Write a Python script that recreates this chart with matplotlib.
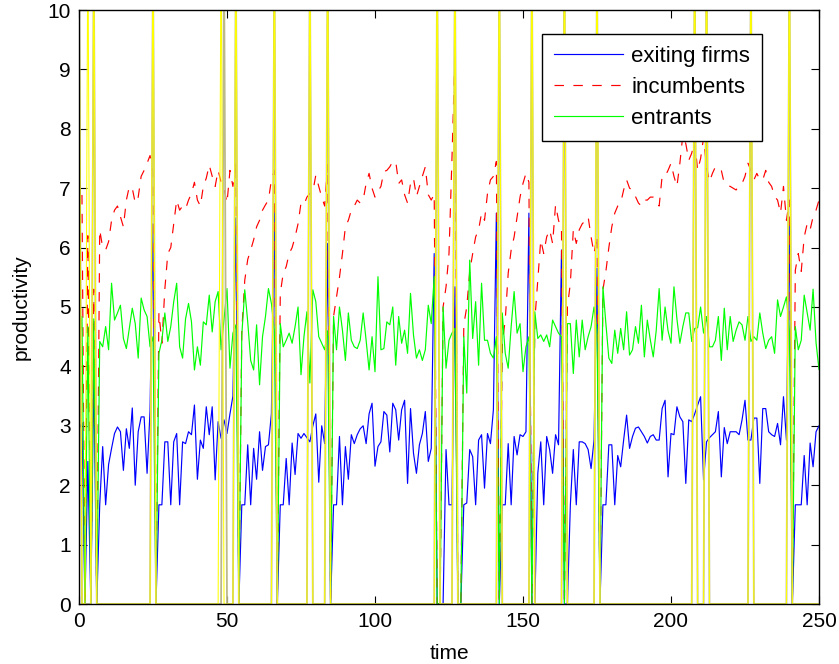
import matplotlib
matplotlib.use('Agg')
import matplotlib.pyplot as plt
import numpy as np

plt.rcParams['font.family'] = ['Liberation Sans', 'DejaVu Sans']

t = np.arange(251)

exiting = [
    2.95, 3.05, 0, 2.4, 0, 3.95, 0, 1.67, 2.65, 1.67,
    2.35, 2.62, 2.87, 2.98, 2.9, 2.25, 2.95, 2.62, 3.3, 2.0,
    2.9, 3.15, 3.15, 2.2, 3.25, 6.4, 0, 1.67, 1.67, 2.73,
    2.73, 1.67, 2.73, 2.87, 1.67, 2.73, 2.7, 2.9, 2.85, 3.35,
    2.1, 2.76, 2.62, 3.32, 2.85, 3.32, 2.09, 3.07, 2.79, 3.1,
    2.87, 3.2, 3.5, 6.5, 0, 1.67, 1.67, 2.68, 1.67, 2.62,
    2.1, 2.9, 2.25, 2.65, 2.68, 3.2, 6.6, 0, 1.67, 1.67,
    2.45, 1.67, 2.71, 2.18, 2.87, 2.79, 2.87, 2.8, 2.73, 3.0,
    3.2, 2.05, 3.0, 2.7, 6.07, 0, 1.67, 1.67, 2.82, 1.67,
    2.65, 2.1, 2.85, 2.7, 2.85, 2.95, 3.0, 2.7, 3.2, 3.38,
    2.32, 2.65, 2.73, 3.24, 3.18, 2.56, 3.38, 3.27, 2.76, 3.27,
    3.43, 2.03, 3.29, 2.54, 2.2, 2.68, 2.87, 3.24, 2.4, 2.62,
    5.9, 0, 0, 0, 2.6, 1.67, 1.67, 5.34, 0, 0,
    1.67, 1.7, 2.6, 2.48, 1.67, 2.76, 2.85, 1.95, 2.87, 2.7,
    3.27, 6.58, 0, 1.67, 1.67, 2.7, 1.67, 2.82, 2.51, 2.85,
    2.82, 2.9, 6.58, 0, 0, 2.2, 2.73, 1.67, 2.82, 2.6,
    2.2, 2.85, 2.68, 5.96, 0, 0, 1.67, 2.6, 1.67, 2.73,
    2.73, 2.7, 2.6, 2.28, 2.76, 5.65, 0, 1.67, 1.67, 2.68,
    2.68, 1.67, 2.5, 2.31, 2.76, 3.18, 2.62, 2.82, 2.96, 2.98,
    2.9, 2.82, 2.71, 2.82, 2.85, 2.76, 2.76, 3.29, 3.43, 2.14,
    2.87, 2.85, 3.32, 3.15, 3.07, 2.03, 3.1, 3.07, 3.2, 3.35,
    3.49, 2.09, 2.73, 2.8, 2.85, 2.9, 3.24, 2.14, 2.97, 2.7,
    2.9, 2.9, 2.9, 2.85, 3.1, 3.43, 2.76, 2.76, 3.13, 3.13,
    2.03, 3.29, 3.29, 2.9, 2.85, 2.82, 3.04, 2.68, 3.49, 2.76,
    6.46, 0, 1.67, 1.67, 1.67, 2.5, 1.67, 2.71, 2.31, 2.9,
    3.0,
]

incumbents = [
    7.2, 6.9, 0, 6.2, 0, 5.3, 0, 6.3, 6.0, 5.96,
    6.1, 6.46, 6.63, 6.7, 6.52, 6.35, 6.8, 7.03, 7.0, 6.75,
    6.85, 7.2, 7.3, 7.42, 7.55, 7.25, 0, 4.9, 4.39, 5.3,
    5.9, 6.0, 6.4, 6.8, 6.63, 6.7, 6.65, 6.8, 6.91, 7.1,
    6.8, 6.7, 7.03, 7.17, 7.39, 7.2, 7.03, 7.3, 7.1, 7.0,
    6.75, 7.3, 7.03, 7.45, 0, 4.6, 5.45, 5.8, 5.96, 6.13,
    6.35, 6.46, 6.63, 6.72, 6.8, 7.14, 7.3, 0, 5.23, 5.57,
    5.68, 5.9, 6.0, 6.18, 6.4, 6.75, 6.72, 6.85, 6.91, 6.94,
    7.22, 7.03, 6.85, 6.7, 7.4, 0, 4.84, 5.17, 5.5, 5.9,
    6.35, 6.46, 6.63, 6.7, 6.8, 6.75, 6.8, 7.08, 7.25, 7.0,
    6.85, 6.95, 7.03, 7.28, 7.3, 7.36, 7.45, 7.45, 7.08, 7.14,
    6.89, 6.75, 7.08, 7.17, 6.86, 7.03, 7.2, 7.36, 6.89, 6.8,
    6.9, 0, 0, 5.0, 5.34, 5.9, 7.5, 9.25, 0, 0,
    4.7, 5.0, 5.6, 5.9, 6.18, 6.3, 6.58, 6.46, 6.91, 7.14,
    7.2, 7.45, 0, 4.39, 4.78, 5.57, 5.96, 6.18, 6.52, 6.85,
    7.08, 7.25, 7.1, 0, 4.78, 5.45, 6.13, 5.9, 6.18, 6.3,
    6.07, 6.72, 6.46, 6.3, 0, 5.0, 5.4, 6.3, 6.07, 6.3,
    6.4, 6.45, 6.52, 6.18, 5.9, 6.2, 0, 5.29, 5.6, 6.0,
    6.35, 6.58, 6.7, 6.75, 6.97, 7.14, 7.0, 6.97, 6.86, 6.75,
    6.7, 6.8, 6.8, 6.85, 6.85, 6.75, 6.7, 7.2, 7.2, 7.3,
    7.42, 7.2, 7.03, 7.42, 7.9, 7.75, 7.47, 7.59, 7.8, 7.3,
    7.5, 7.85, 7.36, 7.11, 7.25, 7.36, 7.3, 7.3, 7.08, 7.05,
    7.03, 7.0, 6.97, 7.05, 7.08, 7.2, 7.42, 7.3, 7.14, 7.25,
    7.14, 7.14, 7.3, 7.1, 7.03, 6.86, 6.8, 6.58, 7.03, 6.46,
    6.8, 0, 5.62, 5.9, 5.6, 6.18, 6.4, 6.3, 6.52, 6.63,
    6.8,
]

entrants = [
    4.33, 4.84, 0, 4.67, 0, 4.8, 0, 4.42, 4.33, 4.67,
    4.28, 5.4, 4.78, 4.9, 5.03, 4.47, 4.3, 4.64, 4.98, 4.72,
    4.14, 5.15, 4.95, 4.84, 4.33, 4.5, 0, 4.22, 4.44, 4.9,
    4.42, 4.67, 5.09, 5.4, 4.33, 4.14, 4.8, 5.06, 4.75, 3.94,
    4.33, 4.02, 4.75, 4.7, 5.2, 4.58, 5.09, 5.26, 4.28, 4.8,
    5.31, 3.97, 4.56, 4.7, 0, 4.53, 5.29, 4.75, 4.1, 3.94,
    4.7, 3.69, 4.5, 4.84, 5.31, 5.06, 4.6, 0, 4.72, 4.33,
    4.44, 4.56, 4.39, 4.67, 5.0, 3.86, 4.5, 4.92, 3.72, 5.29,
    5.09, 4.5, 4.39, 4.28, 4.6, 0, 4.84, 4.28, 5.0, 4.61,
    4.1, 4.9, 4.44, 4.33, 4.3, 4.44, 4.9, 4.44, 3.94, 4.5,
    3.91, 5.51, 4.28, 4.3, 4.75, 4.7, 5.0, 4.02, 4.84, 4.39,
    4.61, 4.22, 5.23, 4.53, 4.14, 4.28, 4.1, 4.28, 5.03, 4.72,
    5.51, 0, 0, 5.0, 3.97, 4.44, 4.56, 4.64, 0, 0,
    4.5, 3.55, 5.79, 4.47, 5.09, 4.02, 5.4, 4.44, 4.44, 4.22,
    4.14, 4.5, 0, 4.9, 4.22, 3.97, 4.67, 5.26, 4.56, 4.72,
    3.91, 4.33, 4.5, 0, 4.92, 4.47, 4.53, 4.42, 4.53, 4.33,
    4.78, 4.67, 4.56, 4.5, 0, 4.72, 4.72, 3.88, 4.78, 4.16,
    4.78, 4.28, 4.5, 4.67, 5.0, 4.6, 0, 5.34, 4.72, 4.14,
    4.05, 4.61, 4.22, 4.64, 4.28, 4.92, 4.19, 4.28, 4.67, 4.39,
    5.03, 4.16, 4.78, 4.45, 4.16, 4.6, 5.31, 4.44, 5.0, 4.6,
    4.39, 5.34, 4.8, 4.39, 4.67, 4.9, 4.9, 4.42, 4.64, 4.65,
    5.0, 4.56, 4.84, 4.33, 4.33, 4.44, 4.84, 4.1, 4.98, 4.28,
    4.84, 4.42, 4.61, 4.75, 4.7, 4.44, 4.84, 4.42, 4.5, 4.44,
    4.9, 4.56, 4.3, 4.44, 4.5, 4.22, 5.12, 4.84, 5.0, 5.17,
    4.6, 0, 4.67, 4.28, 4.44, 5.2, 4.9, 4.61, 5.3, 4.4,
    3.95,
]

# the two extra columns are zero except at the shock periods
yellow_spikes = [0, 3, 5, 25, 48, 53, 66, 78, 84, 121, 127, 142, 153, 164, 175, 208, 212, 227, 240]
olive_spikes = [0, 5, 25, 49, 53, 66, 78, 84, 121, 127, 142, 153, 164, 175, 208, 212, 227, 240]
yellow_peak = 11.5
olive_peak = 11.0

yellow = np.zeros(len(t))
yellow[yellow_spikes] = yellow_peak
olive = np.zeros(len(t))
olive[olive_spikes] = olive_peak

fig = plt.figure(figsize=(8.39, 6.64), dpi=100)
ax = fig.add_axes([79 / 839, 60 / 664, 740 / 839, 594 / 664])

h1, = ax.plot(t, exiting, color='#0000ff', lw=0.85, label='exiting firms')
h2, = ax.plot(t, incumbents, color='#ff0000', lw=0.85, dashes=(8, 8), label='incumbents')
h3, = ax.plot(t, entrants, color='#00ff00', lw=0.85, label='entrants')
ax.plot(t, olive, color='#bcb98a', lw=1.3)
ax.plot(t, yellow, color='#ffff00', lw=0.75)

ax.set_xlim(0, 250)
ax.set_ylim(0, 10)
ax.set_xticks(range(0, 251, 50))
ax.set_yticks(range(0, 11))
ax.tick_params(direction='in', top=True, right=True, length=6, width=0.8,
               labelsize=15, pad=6, colors='black')
for s in ax.spines.values():
    s.set_linewidth(1.0)
    s.set_color('black')

ax.set_xlabel('time', fontsize=15, labelpad=9)
ax.set_ylabel('productivity', fontsize=15, labelpad=12)

leg = ax.legend(handles=[h1, h2, h3], loc='upper left', bbox_to_anchor=(0.626, 0.96),
                fontsize=16, fancybox=False, edgecolor='black', framealpha=1,
                borderaxespad=0, handlelength=3.1, handletextpad=0.35,
                labelspacing=0.45, borderpad=0.55)
leg.get_frame().set_linewidth(1.0)

fig.savefig('out.png', dpi=100)
